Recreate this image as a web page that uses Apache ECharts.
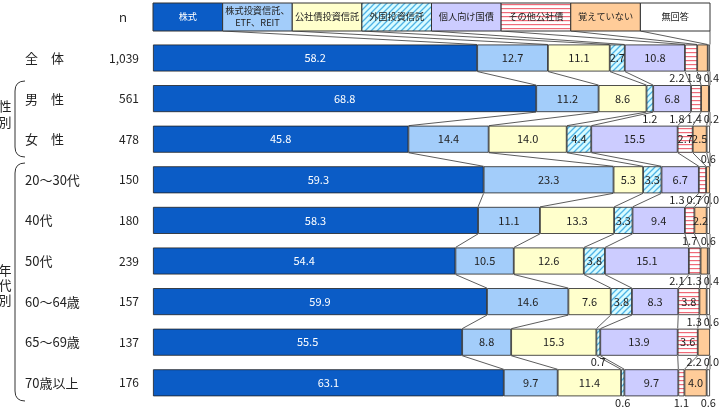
<!DOCTYPE html>
<html><head><meta charset="utf-8">
<script src="https://cdn.jsdelivr.net/npm/echarts@6/dist/echarts.min.js"></script>
<style>html,body{margin:0;padding:0;background:#fff}#c{width:726px;height:416px}</style>
</head><body><div id="c"></div>
<script>
// ---- data ----
const rowLabels = ['全　体','男　性','女　性','20～30代','40代','50代','60～64歳','65～69歳','70歳以上'];
const nValues = ['1,039','561','478','150','180','239','157','137','176'];
const seriesNames = ['株式','株式投資信託、ETF、REIT','公社債投資信託','外国投資信託','個人向け国債','その他公社債','覚えていない','無回答'];
const legendLabels = ['株式','株式投資信託、\nETF、REIT','公社債投資信託','外国投資信託','個人向け国債','その他公社債','覚えていない','無回答'];
const kabushiki = [58.2,68.8,45.8,59.3,58.3,54.4,59.9,55.5,63.1];
const toshin    = [12.7,11.2,14.4,23.3,11.1,10.5,14.6,8.8,9.7];
const koshasai  = [11.1,8.6,14.0,5.3,13.3,12.6,7.6,15.3,11.4];
const gaikoku   = [2.7,1.2,4.4,3.3,3.3,3.8,3.8,0.7,0.6];
const kojin     = [10.8,6.8,15.5,6.7,9.4,15.1,8.3,13.9,9.7];
const sonota    = [2.2,1.8,2.7,1.3,1.7,2.1,3.8,3.6,1.1];
const oboete    = [1.9,1.4,2.5,0.7,2.2,1.3,1.3,2.2,4.0];
const mukaito   = [0.4,0.2,0.6,0.0,0.6,0.4,0.6,0.0,0.6];
const seriesValues = [kabushiki, toshin, koshasai, gaikoku, kojin, sonota, oboete, mukaito];
// label placement exceptions (row, series) shown inside although small
const forcedInside = [[4, 6]];

// ---- layout / style ----
const FONT = '"Noto Sans CJK JP", "Noto Sans", sans-serif';
const GRID_LEFT = 153, GRID_RIGHT = 16, GRID_TOP = 37.7, GRID_BOTTOM = 12.9;
const BAR_W = 27;
const LEG_TOP = 3, LEG_H = 28;

function makePattern(kind) {
  const c = document.createElement('canvas');
  const g = c.getContext('2d');
  if (kind === 'diag') {
    const s = 6; c.width = s; c.height = s;
    g.fillStyle = '#d8fbff'; g.fillRect(0,0,s,s);
    g.strokeStyle = '#4fb3e6'; g.lineWidth = 1.3;
    g.beginPath();
    g.moveTo(0, s); g.lineTo(s, 0);
    g.moveTo(-s/2, s/2); g.lineTo(s/2, -s/2);
    g.moveTo(s/2, s*1.5); g.lineTo(s*1.5, s/2);
    g.stroke();
  } else {
    c.width = 4; c.height = 4;
    g.fillStyle = '#ffffff'; g.fillRect(0,0,4,4);
    g.fillStyle = '#f06a78'; g.fillRect(0,0,4,1.2);
  }
  return {image: c, repeat: 'repeat'};
}
const fills = ['#0b5cc6', '#a3cdfa', '#ffffcc', makePattern('diag'), '#ccccff', makePattern('hstripe'), '#ffcc99', '#ffffff'];

// normalized values (100% stacked)
const sums = rowLabels.map((_, r) => seriesValues.reduce((a, v) => a + v[r], 0));
const norm = seriesValues.map(vals => vals.map((v, r) => v / sums[r] * 100));
const cum = rowLabels.map((_, r) => {
  const c = [0];
  for (let s = 0; s < seriesValues.length; s++) c.push(c[s] + norm[s][r]);
  return c;
});
function isInside(r, s) {
  return seriesValues[s][r] >= 2.5 || forcedInside.some(p => p[0] === r && p[1] === s);
}
const mctx = document.createElement('canvas').getContext('2d');
mctx.font = '11px ' + FONT;
function tw(t) { return mctx.measureText(t).width; }

const chart = echarts.init(document.getElementById('c'), null, {renderer: 'canvas'});

const barSeries = seriesValues.map((vals, s) => ({
  type: 'bar', name: seriesNames[s], stack: 'total', barWidth: BAR_W, z: 2,
  itemStyle: {color: fills[s], borderColor: '#222', borderWidth: 0.8},
  label: {show: true, position: 'inside', fontSize: 11, fontFamily: FONT,
          color: s === 0 ? '#fff' : '#222',
          formatter: p => vals[p.dataIndex].toFixed(1)},
  data: vals.map((v, r) => ({value: norm[s][r], label: {show: isInside(r, s)}}))
}));

const connectorSeries = {
  type: 'custom', coordinateSystem: 'cartesian2d', silent: true, z: 3,
  data: rowLabels.map((_, r) => [0, r]),
  encode: {x: 0, y: 1},
  renderItem: function (params, api) {
    const r = api.value(1);
    const half = BAR_W / 2;
    const children = [];
    const yc = api.coord([0, r])[1];
    const lineStyle = {stroke: '#333', lineWidth: 0.8};
    if (r === 0) {
      for (let k = 1; k <= 8; k++) {
        const lx = api.coord([12.5 * k, 0])[0];
        const bx = api.coord([cum[0][k], 0])[0];
        children.push({type: 'line', shape: {x1: lx, y1: LEG_TOP + LEG_H, x2: bx, y2: yc - half}, style: lineStyle});
      }
    } else {
      const yp = api.coord([0, r - 1])[1];
      for (let k = 1; k <= 8; k++) {
        const x1 = api.coord([cum[r - 1][k], 0])[0];
        const x2 = api.coord([cum[r][k], 0])[0];
        children.push({type: 'line', shape: {x1: x1, y1: yp + half, x2: x2, y2: yc - half}, style: lineStyle});
      }
    }
    // small labels below the bar
    const items = [];
    for (let s = 0; s < seriesValues.length; s++) {
      if (isInside(r, s)) continue;
      const txt = seriesValues[s][r].toFixed(1);
      const cx = api.coord([(cum[r][s] + cum[r][s + 1]) / 2, 0])[0];
      items.push({txt: txt, x: cx, w: tw(txt) + 2});
    }
    const maxX = api.coord([100, 0])[0] + 10;
    for (let it = 0; it < 200; it++) {
      let moved = false;
      for (let i = 0; i < items.length - 1; i++) {
        const a = items[i], b = items[i + 1];
        const ov = (a.x + a.w / 2) - (b.x - b.w / 2);
        if (ov > 0.01) { a.x -= ov / 2; b.x += ov / 2; moved = true; }
      }
      const last = items[items.length - 1];
      if (last && last.x + last.w / 2 > maxX + 0.01) { last.x = maxX - last.w / 2; moved = true; }
      if (!moved) break;
    }
    items.forEach(it => {
      children.push({type: 'text', x: it.x, y: yc + half + 1,
        style: {text: it.txt, fill: '#222', font: '11px ' + FONT, textAlign: 'center', textVerticalAlign: 'top'}});
    });
    return {type: 'group', children: children};
  }
};

// legend & decorations
const graphics = [];
const legW = (726 - GRID_RIGHT - GRID_LEFT) / 8;
legendLabels.forEach((t, i) => {
  graphics.push({type: 'rect', shape: {x: GRID_LEFT + i * legW, y: LEG_TOP, width: legW, height: LEG_H},
    style: {fill: fills[i], stroke: '#333', lineWidth: 1}, z: 10});
  graphics.push({type: 'text', x: GRID_LEFT + i * legW + legW / 2, y: LEG_TOP + LEG_H / 2,
    style: {text: t, fill: i === 0 ? '#fff' : '#222', font: '9.2px ' + FONT, textAlign: 'center',
            textVerticalAlign: 'middle', lineHeight: 12}, z: 11});
});
graphics.push({type: 'text', x: 123, y: 17, style: {text: 'ｎ', fill: '#222', font: '12px ' + FONT, textAlign: 'center', textVerticalAlign: 'middle'}});
graphics.push({type: 'text', x: 5, y: 114, style: {text: '性\n別', fill: '#222', font: '13px ' + FONT, textAlign: 'center', textVerticalAlign: 'middle', lineHeight: 16}});
graphics.push({type: 'text', x: 5, y: 285, style: {text: '年\n代\n別', fill: '#222', font: '13px ' + FONT, textAlign: 'center', textVerticalAlign: 'middle', lineHeight: 15}});
function brace(y1, y2) {
  const st = {fill: null, stroke: '#333', lineWidth: 1};
  graphics.push({type: 'bezierCurve', shape: {x1: 25, y1: y1, x2: 15, y2: y1 + 10, cpx1: 15, cpy1: y1}, style: st});
  graphics.push({type: 'line', shape: {x1: 15, y1: y1 + 10, x2: 15, y2: y2 - 10}, style: st});
  graphics.push({type: 'bezierCurve', shape: {x1: 15, y1: y2 - 10, x2: 25, y2: y2, cpx1: 15, cpy1: y2}, style: st});
}
brace(81, 157);
brace(163, 401);

chart.setOption({
  animation: false,
  backgroundColor: '#fff',
  grid: {left: GRID_LEFT, right: GRID_RIGHT, top: GRID_TOP, bottom: GRID_BOTTOM, containLabel: false},
  xAxis: {type: 'value', min: 0, max: 100, show: false},
  yAxis: [
    {type: 'category', inverse: true, data: rowLabels, axisLine: {show: false}, axisTick: {show: false},
     axisLabel: {align: 'left', margin: GRID_LEFT - 25, color: '#222', fontSize: 13, fontFamily: FONT}},
    {type: 'category', inverse: true, data: nValues, position: 'left', axisLine: {show: false}, axisTick: {show: false},
     axisLabel: {align: 'right', margin: GRID_LEFT - 139, color: '#222', fontSize: 12, fontFamily: FONT}}
  ],
  series: barSeries.concat([connectorSeries]),
  graphic: graphics
});
</script>
</body></html>
